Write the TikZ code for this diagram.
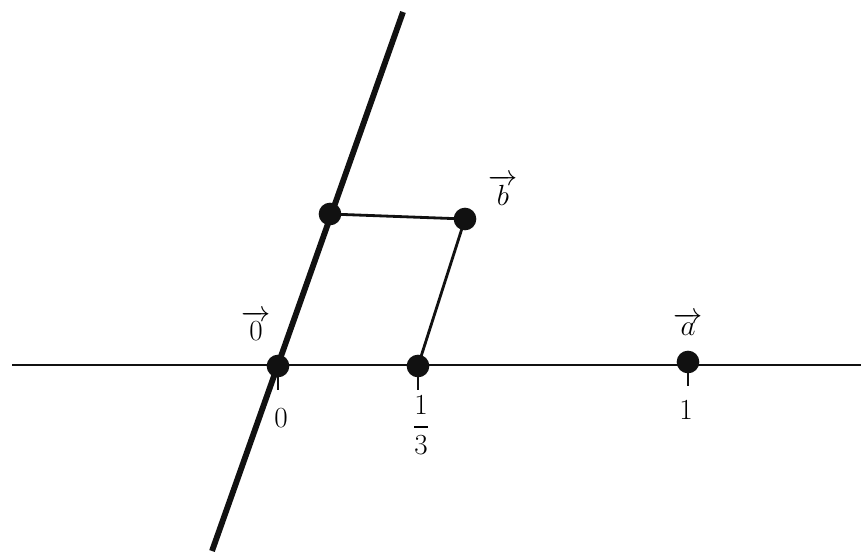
\documentclass[tikz,border=0pt]{standalone}
\usepackage{amsmath,amssymb}
\usetikzlibrary{positioning}
\definecolor{ink}{HTML}{111111}

\begin{document}
\begin{tikzpicture}[x=0.03cm,y=-0.03cm,font=\fontsize{26}{30}\selectfont,
    dot/.style={circle,fill=ink,inner sep=0pt,minimum size=0.68cm},
    thinline/.style={draw=ink,line width=2.4pt},
    thickline/.style={draw=ink,line width=5pt}]
        \useasboundingbox (0,0) rectangle (861,551);
        % axes
        \coordinate (xl) at (12,365);
        \coordinate (xr) at (861,365);
        \coordinate (sb) at (212,551);
        \coordinate (st) at (403,12);
        \draw[thinline] (xl) -- (xr);
        \draw[thickline] (sb) -- (st);
        % points
        \node[dot] (o) at (278,366) {};
        \node[dot] (t) at (418,366) {};
        \node[dot] (a) at (688,362) {};
        \node[dot] (q) at (330,214) {};
        \node[dot] (b) at (465,219) {};
        \draw[thinline] (q.center) -- (b.center);
        \draw[thinline] (b.center) -- (t.center);
        % ticks
        \foreach \p in {o,t,a}{\coordinate (\p tick) at ([yshift=-0.72cm]\p.center); \draw[thinline] (\p.center) -- (\p tick);}
        \node (zero) at (281,418) {$0$};
        \node (third) at (421,425) {$\dfrac{1}{3}$};
        \node (one) at (686,410) {$1$};
        \node[inner sep=1pt] (ovec) at (256,326) {$\overrightarrow{0}$};
        \node[inner sep=1pt] (bvec) at (503,190) {$\overrightarrow{b}$};
        \node[inner sep=1pt] (avec) at (688,324) {$\overrightarrow{a}$};
      \end{tikzpicture}
\end{document}
